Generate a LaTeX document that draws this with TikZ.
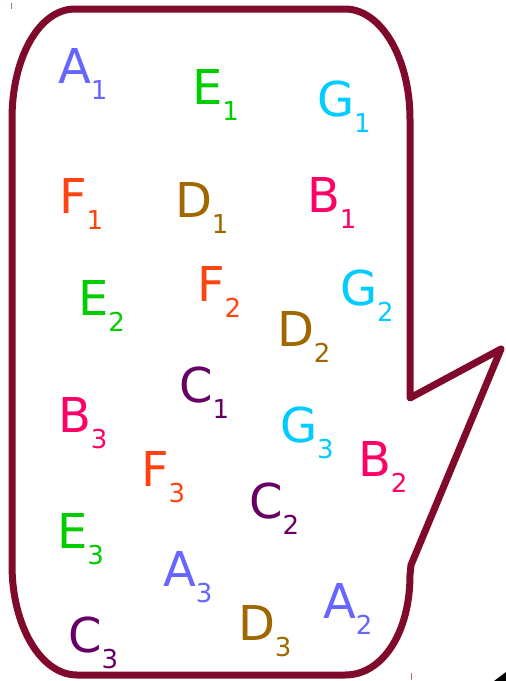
\documentclass[tikz,border=0pt]{standalone}
\usepackage{fontspec}
\setmainfont{DejaVu Sans}
\definecolor{frame}{RGB}{127,10,43}
\definecolor{colA}{RGB}{102,102,255}
\definecolor{colB}{RGB}{255,0,102}
\definecolor{colC}{RGB}{102,0,102}
\definecolor{colD}{RGB}{160,102,0}
\definecolor{colE}{RGB}{0,204,0}
\definecolor{colF}{RGB}{255,68,17}
\definecolor{colG}{RGB}{0,204,255}
\newcommand{\sublab}[2]{{\fontsize{48}{48}\selectfont #1}\raisebox{-16pt}{\fontsize{26}{26}\selectfont #2}}
\begin{document}
\begin{tikzpicture}[x=1pt,y=-1pt,
  callout/.style={draw=frame,line width=7pt,line join=round},
  lab/.style={anchor=base west,inner sep=0pt,outer sep=0pt}]
\useasboundingbox (0,0) rectangle (506,681);
\draw[callout] (75,9) -- (345,9) .. controls (381,9) and (410,58) .. (410,119)
  -- (410,398) -- (501,349) -- (411,565) -- (410,575)
  .. controls (410,632) and (383,675) .. (345,675) -- (77,675)
  .. controls (41,675) and (12,626) .. (12,565) -- (12,119)
  .. controls (12,58) and (39,9) .. (75,9) -- cycle;
\draw[frame!60,line width=1pt] (11,3) -- (11,9);
\draw[frame!60,line width=1pt] (411,673) -- (411,680);
\fill[black] (494,681) -- (506,672) -- (506,681) -- cycle;
\node[lab,text=colA] (a1) at (58,83) {\sublab{A}{1}};
\node[lab,text=colE] (e1) at (192,104) {\sublab{E}{1}};
\node[lab,text=colG] (g1) at (317,116) {\sublab{G}{1}};
\node[lab,text=colF] (f1) at (59,213) {\sublab{F}{1}};
\node[lab,text=colD] (d1) at (175,217) {\sublab{D}{1}};
\node[lab,text=colB] (b1) at (307,212) {\sublab{B}{1}};
\node[lab,text=colE] (e2) at (78,315) {\sublab{E}{2}};
\node[lab,text=colF] (f2) at (197,301) {\sublab{F}{2}};
\node[lab,text=colG] (g2) at (340,305) {\sublab{G}{2}};
\node[lab,text=colD] (d2) at (277,346) {\sublab{D}{2}};
\node[lab,text=colC] (c1) at (179,402) {\sublab{C}{1}};
\node[lab,text=colB] (b3) at (58,432) {\sublab{B}{3}};
\node[lab,text=colG] (g3) at (280,442) {\sublab{G}{3}};
\node[lab,text=colB] (b2) at (358,476) {\sublab{B}{2}};
\node[lab,text=colF] (f3) at (141,486) {\sublab{F}{3}};
\node[lab,text=colC] (c2) at (249,518) {\sublab{C}{2}};
\node[lab,text=colE] (e3) at (57,548) {\sublab{E}{3}};
\node[lab,text=colA] (a3) at (163,586) {\sublab{A}{3}};
\node[lab,text=colD] (d3) at (238,640) {\sublab{D}{3}};
\node[lab,text=colA] (a2) at (323,618) {\sublab{A}{2}};
\node[lab,text=colC] (c3) at (68,652) {\sublab{C}{3}};
\end{tikzpicture}
\end{document}
